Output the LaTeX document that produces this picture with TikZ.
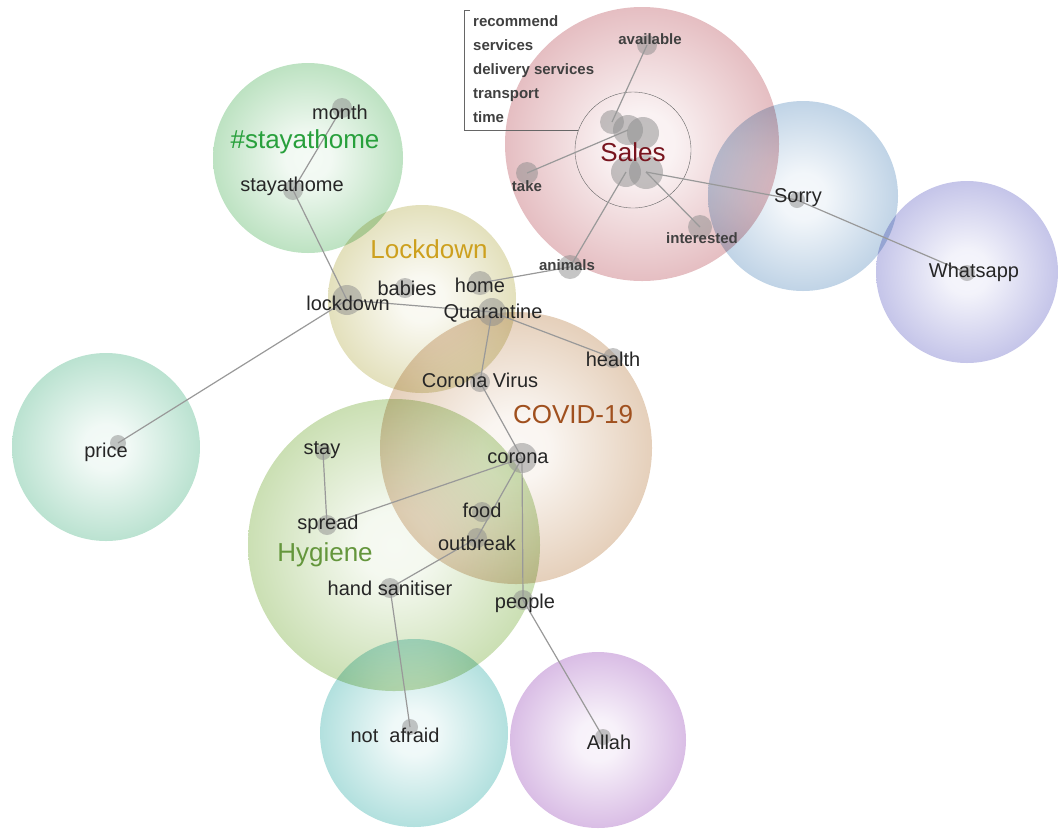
\documentclass[tikz,border=0pt]{standalone}
\usepackage{fontspec}
\setmainfont{Liberation Sans}
\usepackage{xcolor}
\usetikzlibrary{positioning}

\definecolor{bStay}{RGB}{120,196,130}
\definecolor{bSales}{RGB}{202,122,130}
\definecolor{bSorry}{RGB}{126,166,204}
\definecolor{bWhats}{RGB}{136,136,210}
\definecolor{bLock}{RGB}{198,192,118}
\definecolor{bCovid}{RGB}{202,158,115}
\definecolor{bHyg}{RGB}{148,190,100}
\definecolor{bPrice}{RGB}{115,196,160}
\definecolor{bAfraid}{RGB}{98,192,188}
\definecolor{bAllah}{RGB}{178,120,202}
\definecolor{tStay}{RGB}{40,160,60}
\definecolor{tSales}{RGB}{120,20,30}
\definecolor{tLock}{RGB}{205,160,30}
\definecolor{tCovid}{RGB}{160,80,30}
\definecolor{tHyg}{RGB}{100,150,60}

% pale centre, coloured rim
\colorlet{bubout}{gray}
\pgfdeclareradialshading[bubout]{bubble}{\pgfpointorigin}{color(0bp)=(bubout!8!white); color(6bp)=(bubout!10!white); color(28bp)=(bubout!55!white); color(50bp)=(bubout)}

\begin{document}
\begin{tikzpicture}[x=1pt, y=-1pt,
  bubble/.style={circle, inner sep=0pt, shading=bubble, /utils/exec={\colorlet{bubout}{#1}}},
  blob/.style={circle, fill=black!45, fill opacity=0.5, inner sep=0pt, minimum size=#1},
  link/.style={draw=black!40, line width=1.2pt},
  word/.style={font=\fontsize{20}{24}\selectfont, text=black!85, inner sep=1pt},
  small/.style={font=\fontsize{15}{24}\selectfont\bfseries, text=black!75, inner sep=1pt},
  topic/.style={font=\fontsize{26}{30}\selectfont, text=#1, inner sep=1pt}
]
  \useasboundingbox (0,0) rectangle (1059,831);

  % clusters
  \begin{scope}[blend mode=multiply]
    \node[bubble=bStay,   minimum size=190] (stay-b)   at (308,158) {};
    \node[bubble=bSales,  minimum size=274] (sales-b)  at (642,144) {};
    \node[bubble=bSorry,  minimum size=190] (sorry-b)  at (803,196) {};
    \node[bubble=bWhats,  minimum size=182] (whats-b)  at (967,272) {};
    \node[bubble=bLock,   minimum size=188] (lock-b)   at (422,299) {};
    \node[bubble=bCovid,  minimum size=272] (covid-b)  at (516,448) {};
    \node[bubble=bHyg,    minimum size=292] (hyg-b)    at (394,545) {};
    \node[bubble=bPrice,  minimum size=188] (price-b)  at (106,447) {};
    \node[bubble=bAfraid, minimum size=188] (afraid-b) at (414,733) {};
    \node[bubble=bAllah,  minimum size=176] (allah-b)  at (598,740) {};
  \end{scope}
  \node[circle, draw=black!60, thin, minimum size=116, inner sep=0pt] (inner) at (633,150) {};

  % word positions
  \node[blob=20] (month)  at (342,108) {};
  \node[blob=20] (stayat) at (293,190) {};
  \node[blob=20] (avail)  at (647,45)  {};
  \node[blob=22] (take)   at (527,173) {};
  \node[blob=24] (anim)   at (570,267) {};
  \node[blob=24] (inter)  at (700,227) {};
  \node[blob=24] (c1)     at (612,122) {};
  \node[blob=30] (c2)     at (628,130) {};
  \node[blob=32] (c3)     at (643,133) {};
  \node[blob=30] (c4)     at (626,172) {};
  \node[blob=34] (c5)     at (646,172) {};
  \node[blob=16] (sorry)  at (797,200) {};
  \node[blob=16] (whats)  at (967,273) {};
  \node[blob=20] (babies) at (405,288) {};
  \node[blob=24] (home)   at (480,283) {};
  \node[blob=30] (lockd)  at (347,300) {};
  \node[blob=28] (quar)   at (492,312) {};
  \node[blob=20] (health) at (613,358) {};
  \node[blob=20] (cvirus) at (480,382) {};
  \node[blob=16] (price)  at (118,443) {};
  \node[blob=30] (corona) at (522,458) {};
  \node[blob=16] (stay)   at (323,452) {};
  \node[blob=20] (spread) at (327,525) {};
  \node[blob=20] (food)   at (482,512) {};
  \node[blob=20] (outbr)  at (477,538) {};
  \node[blob=20] (hand)   at (390,588) {};
  \node[blob=20] (people) at (523,600) {};
  \node[blob=16] (afraid) at (410,727) {};
  \node[blob=16] (allah)  at (603,737) {};

  \draw[link] (month.center) -- (stayat.center) -- (lockd.center);
  \draw[link] (lockd.center) -- (quar.center);
  \draw[link] (lockd.center) -- (price.center);
  \draw[link] (avail.center) -- (c1.center);
  \draw[link] (take.center) -- (c2.center);
  \draw[link] (anim.center) -- (c4.center);
  \draw[link] (inter.center) -- (c5.center);
  \draw[link] (c5.center) -- (sorry.center) -- (whats.center);
  \draw[link] (home.center) -- (anim.center);
  \draw[link] (quar.center) -- (health.center);
  \draw[link] (quar.center) -- (cvirus.center) -- (corona.center);
  \draw[link] (corona.center) -- (spread.center);
  \draw[link] (stay.center) -- (spread.center);
  \draw[link] (corona.center) -- (outbr.center) -- (hand.center);
  \draw[link] (corona.center) -- (people.center) -- (allah.center);
  \draw[link] (hand.center) -- (afraid.center);

  % topic names
  \node[topic=tStay]  (stay-t)  at (305,142) {\#stayathome};
  \node[topic=tSales] (sales-t) at (633,152) {Sales};
  \node[topic=tLock]  (lock-t)  at (429,249) {Lockdown};
  \node[topic=tCovid] (covid-t) at (573,415) {COVID-19};
  \node[topic=tHyg]   (hyg-t)   at (325,555) {Hygiene};

  % words
  \node[word] (month-l)  at (340,112) {month};
  \node[word] (stayat-l) at (292,186) {stayathome};
  \node[small] (avail-l) at (650,39)  {available};
  \node[small] (take-l)  at (527,186) {take};
  \node[small] (anim-l)  at (567,265) {animals};
  \node[small] (inter-l) at (702,238) {interested};
  \node[small, align=left, anchor=north west, inner xsep=9pt, inner ysep=5pt] (list) at (464,10)
    {recommend\\services\\delivery services\\transport\\time};
  \draw[black!60, thin] ([xshift=6pt]list.north west) -- (list.north west) |- (inner.160);
  \node[word] (sorry-l)  at (798,198) {Sorry};
  \node[word] (whats-l)  at (974,272) {Whatsapp};
  \node[word] (babies-l) at (407,288) {babies};
  \node[word] (home-l)   at (480,285) {home};
  \node[word] (lockd-l)  at (348,303) {lockdown};
  \node[word] (quar-l)   at (493,313) {Quarantine};
  \node[word] (health-l) at (613,359) {health};
  \node[word] (cvirus-l) at (480,380) {Corona Virus};
  \node[word] (price-l)  at (106,452) {price};
  \node[word] (corona-l) at (518,458) {corona};
  \node[word] (stay-l)   at (322,450) {stay};
  \node[word] (spread-l) at (328,524) {spread};
  \node[word] (food-l)   at (482,510) {food};
  \node[word] (outbr-l)  at (477,543) {outbreak};
  \node[word] (hand-l)   at (390,588) {hand sanitiser};
  \node[word] (people-l) at (525,603) {people};
  \node[word] (afraid-l) at (395,735) {not\ \ afraid};
  \node[word] (allah-l)  at (609,742) {Allah};
\end{tikzpicture}
\end{document}
